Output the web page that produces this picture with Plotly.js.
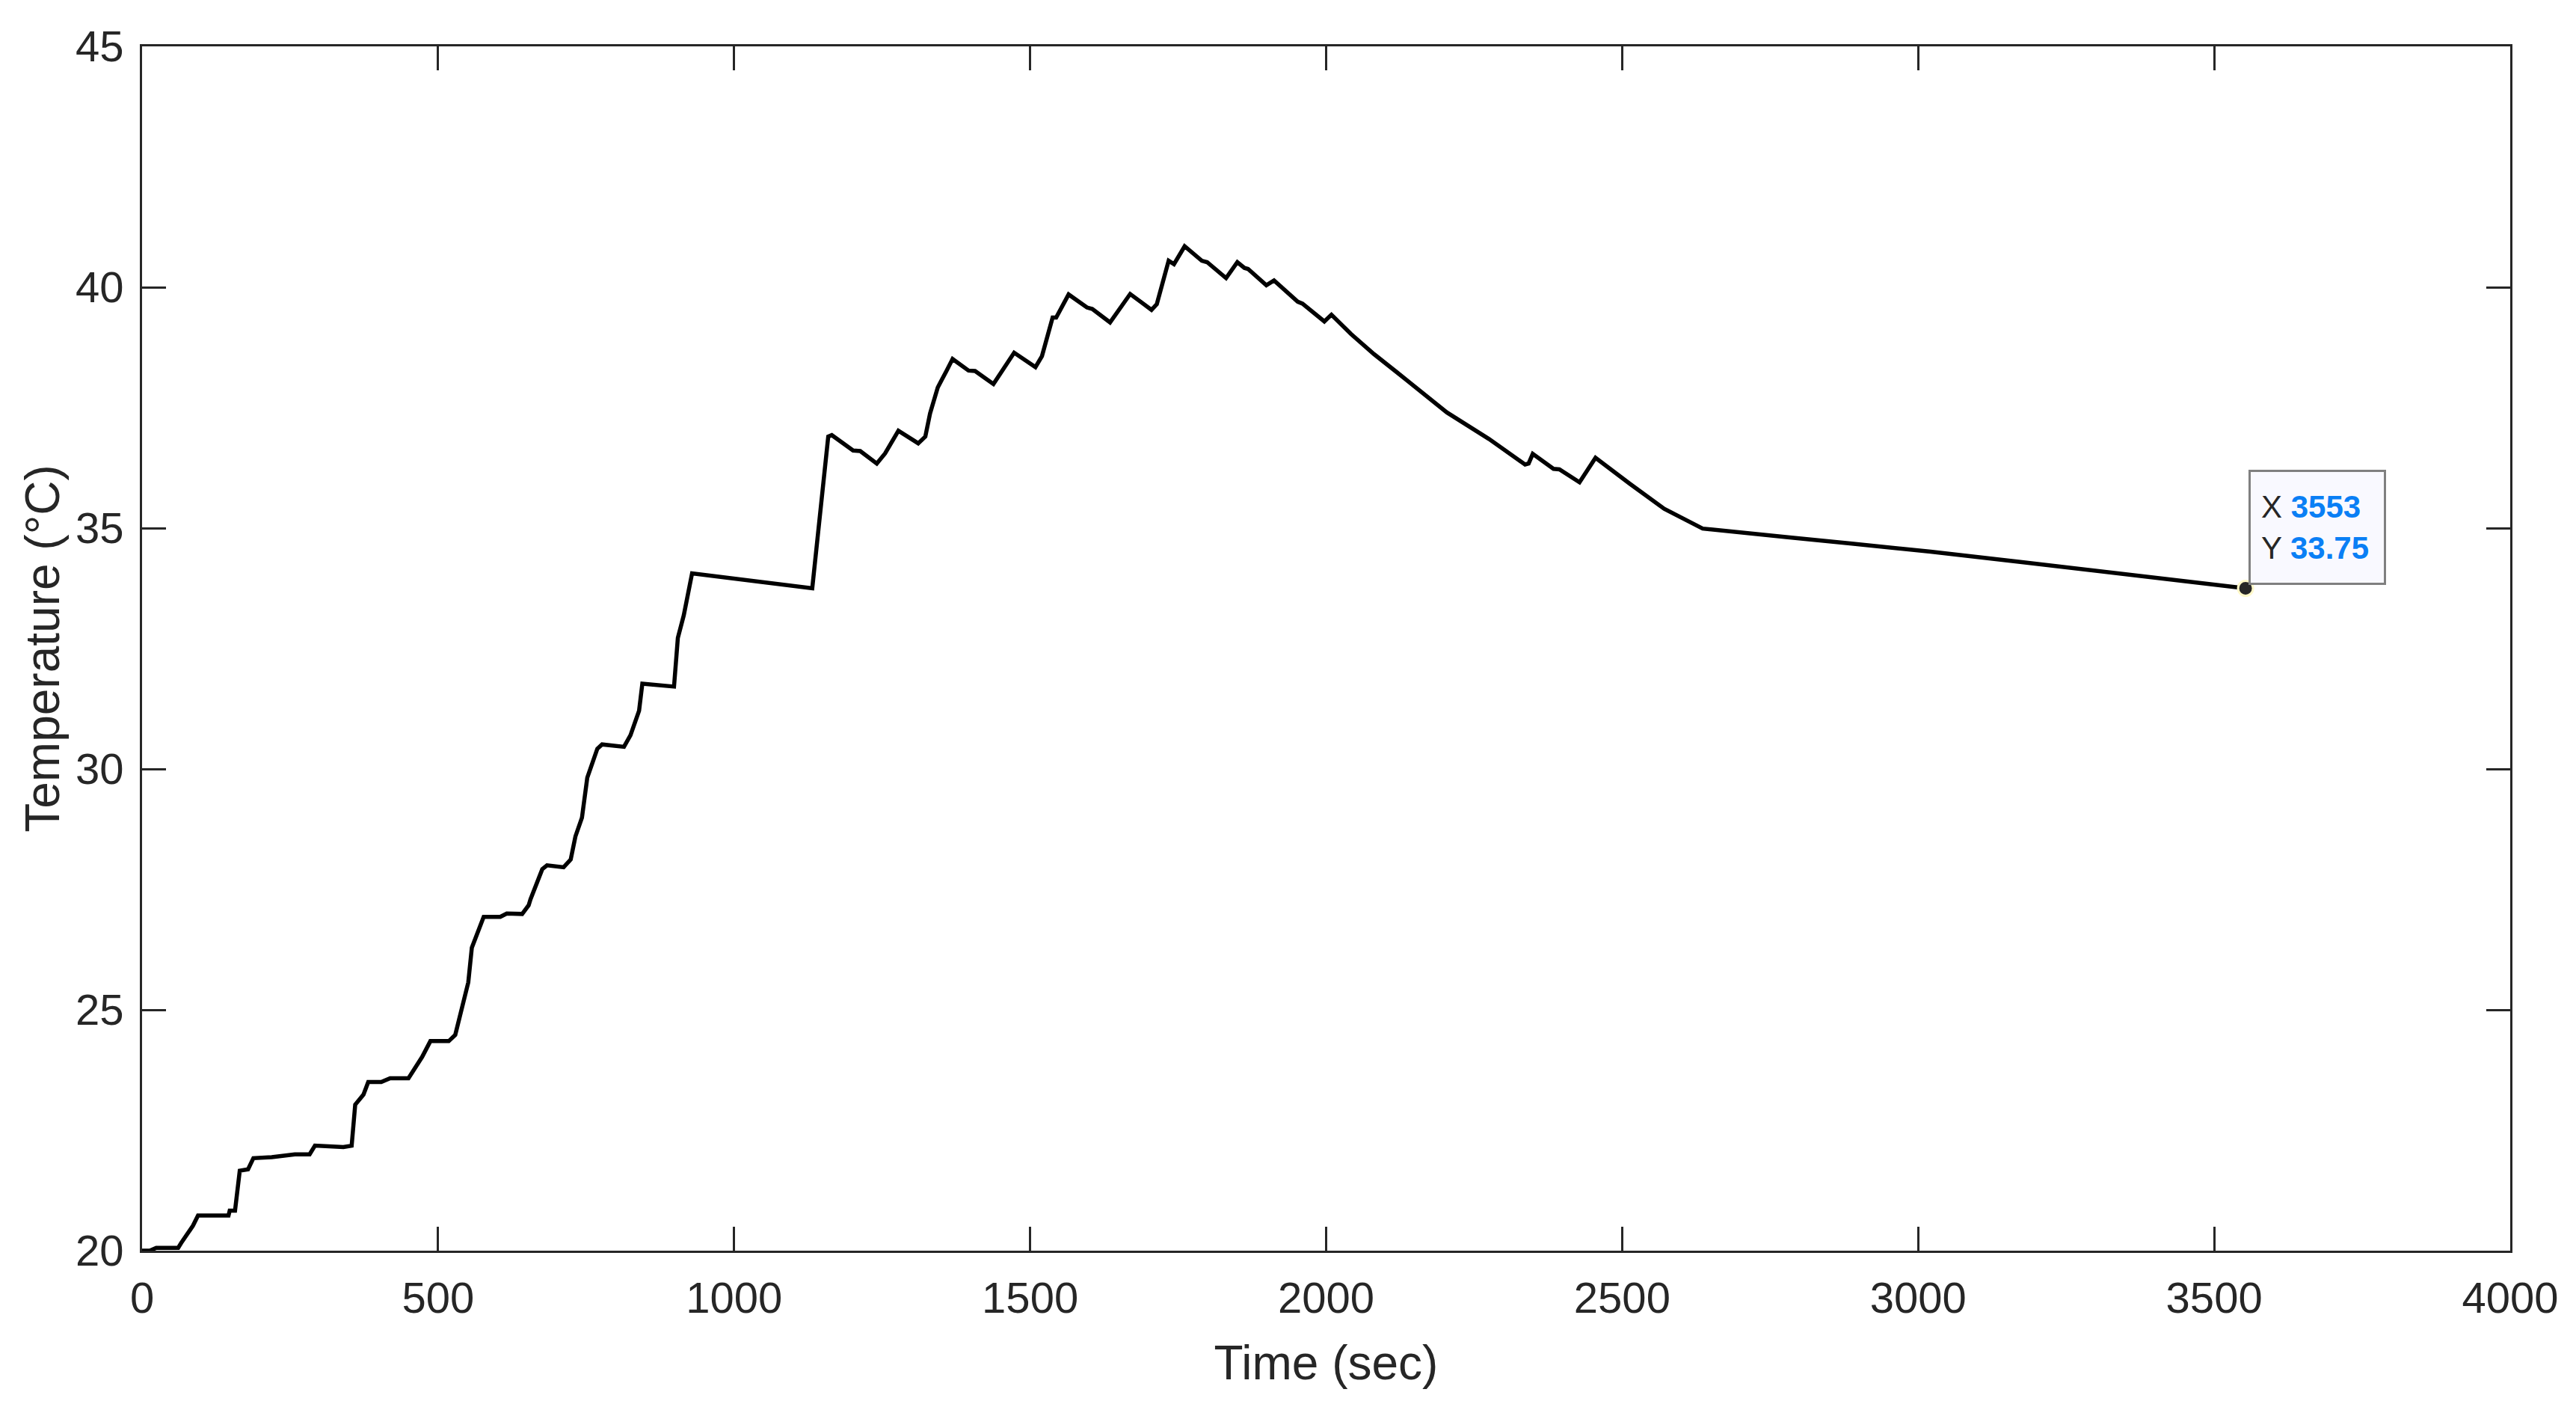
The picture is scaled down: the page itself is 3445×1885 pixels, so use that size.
<!DOCTYPE html>
<html>
<head>
<meta charset="utf-8">
<script src="https://cdn.plot.ly/plotly-3.0.1.min.js"></script>
<style>
body{margin:0;background:#fff}
#plot_div{width:3445px;height:1885px}
</style>
</head>
<body>
<div id="plot_div"></div>
<script>
// time (sec) and temperature (°C)
var time = [0, 13, 24, 61, 66, 86, 94.5, 146, 148, 157, 165, 179, 188, 219, 258, 283, 292, 323, 340, 354,
    360, 374, 382, 404, 419, 450, 473, 487, 518, 529, 543, 551, 557, 569, 577, 605, 616, 642, 653,
    656, 676, 684, 712, 724, 732, 743, 752, 769, 777, 814, 825, 839.5, 845, 898.5, 905, 915, 929, 1132,
    1159, 1165, 1201, 1213, 1241, 1255, 1277.5, 1311, 1323, 1331, 1344, 1359, 1369, 1396, 1407, 1438,
    1473, 1509, 1520, 1538, 1544, 1565, 1596, 1605, 1635, 1669, 1705, 1714, 1734, 1743, 1761, 1790,
    1799, 1831, 1850, 1862, 1868, 1899, 1912, 1952, 1960, 1997, 2009, 2042, 2081, 2120, 2159, 2204,
    2275, 2336, 2342, 2349, 2384, 2394, 2428, 2455, 2513, 2571, 2636, 2696, 2780, 2885, 3021, 3178,
    3335, 3553];
var temp = [20.0, 20.0, 20.06, 20.06, 20.16, 20.52, 20.73, 20.73, 20.83, 20.83, 21.66, 21.69, 21.92, 21.94, 22.0, 22.0, 22.18, 22.17, 22.15, 22.18,
    23.03, 23.24, 23.5, 23.5, 23.58, 23.58, 24.02, 24.35, 24.35, 24.48, 25.16, 25.57, 26.29, 26.66, 26.93, 26.93, 27.0, 26.99, 27.17,
    27.29, 27.92, 28.0, 27.96, 28.12, 28.6, 28.99, 29.82, 30.42, 30.51, 30.46, 30.7, 31.21, 31.77, 31.71, 32.72, 33.19, 34.06, 33.75,
    36.9, 36.93, 36.61, 36.6, 36.34, 36.55, 37.02, 36.76, 36.9, 37.38, 37.92, 38.27, 38.51, 38.27, 38.26, 37.99,
    38.64, 38.34, 38.57, 39.37, 39.37, 39.85, 39.58, 39.55, 39.27, 39.86, 39.53, 39.65, 40.55, 40.48, 40.85, 40.55,
    40.52, 40.19, 40.52, 40.4, 40.38, 40.04, 40.14, 39.7, 39.66, 39.29, 39.43, 39.03, 38.61, 38.23, 37.84, 37.4,
    36.85, 36.32, 36.34, 36.54, 36.23, 36.22, 35.95, 36.46, 35.92, 35.4, 34.99, 34.91, 34.81, 34.68, 34.51, 34.29,
    34.06, 33.75];
var xticks = [0, 500, 1000, 1500, 2000, 2500, 3000, 3500, 4000];
var yticks = [20, 25, 30, 35, 40, 45];

var n = time.length - 1;
var ink = '#262626';

var data1 = [{
    type: 'scatter',
    mode: 'lines',
    x: time,
    y: temp,
    line: {color: '#000000', width: 5.5},
    hoverinfo: 'skip'
}, {
    type: 'scatter',
    mode: 'markers',
    x: [time[n]],
    y: [temp[n]],
    marker: {size: 20, color: ink, line: {color: '#fff8c8', width: 3}},
    hoverinfo: 'skip'
}];

var axis = {
    showgrid: false,
    zeroline: false,
    showline: true,
    mirror: 'ticks',
    linecolor: ink,
    linewidth: 3,
    ticks: 'inside',
    ticklen: 32,
    tickwidth: 3,
    tickcolor: ink,
    tickfont: {family: 'Liberation Sans, Arial, sans-serif', size: 58, color: ink}
};

var layout1 = {
    width: 3445,
    height: 1885,
    margin: {l: 190, r: 88, t: 62, b: 213},
    paper_bgcolor: '#ffffff',
    plot_bgcolor: '#ffffff',
    showlegend: false,
    hovermode: false,
    font: {family: 'Liberation Sans, Arial, sans-serif', color: ink},
    xaxis: Object.assign({}, axis, {
        range: [0, 4000],
        tickvals: xticks,
        ticktext: xticks.map(String),
        ticklabelstandoff: 10,
        title: {text: 'Time (sec)', font: {size: 64, color: ink}, standoff: 34}
    }),
    yaxis: Object.assign({}, axis, {
        range: [20, 45],
        tickvals: yticks,
        ticktext: yticks.map(String),
        ticklabelstandoff: 10,
        title: {text: 'Temperature (°C)', font: {size: 64, color: ink}, standoff: 1}
    }),
    annotations: [{
        x: time[n],
        y: temp[n],
        xref: 'x',
        yref: 'y',
        showarrow: false,
        xanchor: 'left',
        yanchor: 'bottom',
        xshift: 4,
        yshift: 5,
        align: 'left',
        width: 150,
        height: 120,
        borderpad: 14,
        bgcolor: '#f9f9ff',
        bordercolor: '#808080',
        borderwidth: 3,
        font: {family: 'Liberation Sans, Arial, sans-serif', size: 42, color: ink},
        text: 'X <b><span style="color:#0a7ff5">' + time[n] + '</span></b><br>Y <b><span style="color:#0a7ff5">' + temp[n].toFixed(2) + '</span></b>'
    }]
};

var config = {staticPlot: true, responsive: false};

Plotly.newPlot('plot_div', data1, layout1, config);
</script>
</body>
</html>
